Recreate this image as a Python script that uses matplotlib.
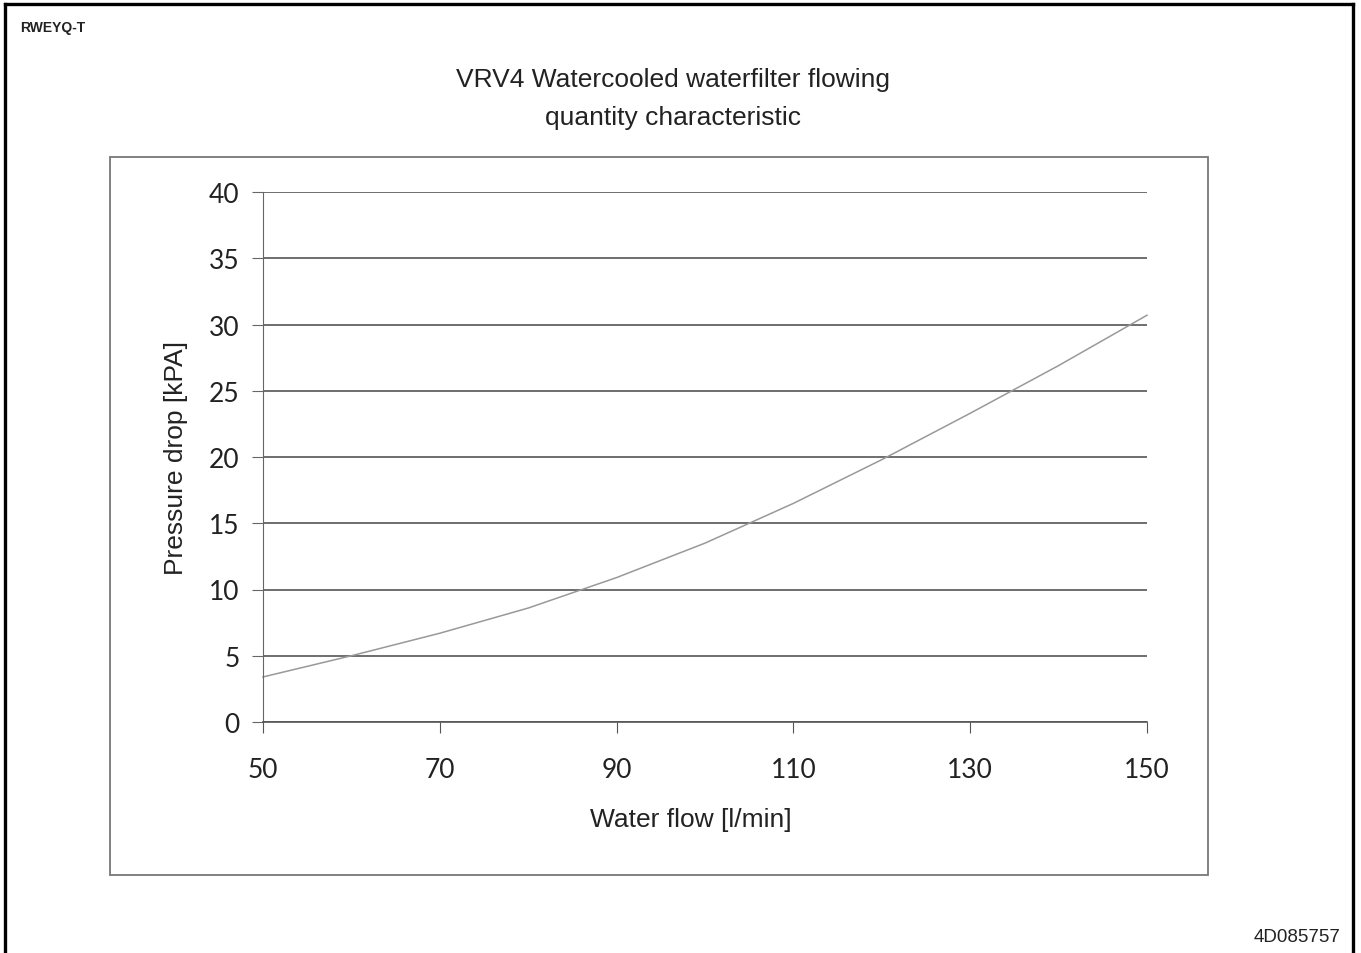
import matplotlib
matplotlib.use("Agg")
import matplotlib.pyplot as plt
from matplotlib.patches import Rectangle
from matplotlib.lines import Line2D

# water flow [l/min] vs pressure drop [kPa]
flow = [50, 60, 70, 80, 90, 100, 110, 120, 130, 140, 150]
pressure = [3.4, 5.0, 6.7, 8.6, 10.9, 13.5, 16.5, 19.8, 23.3, 26.9, 30.7]

x_ticks = [50, 70, 90, 110, 130, 150]
y_ticks = [0, 5, 10, 15, 20, 25, 30, 35, 40]

title_lines = ["VRV4 Watercooled waterfilter flowing", "quantity characteristic"]
narrow = ["Liberation Sans Narrow", "Liberation Sans", "DejaVu Sans"]
tickfont = ["Lato", "DejaVu Sans"]

W, H = 1361, 954
fig = plt.figure(figsize=(W / 100, H / 100), dpi=100)

# outer page frame (open at the bottom)
for xs, ys in [([5, 5], [0, 949]), ([5, 1353], [949, 949]), ([1353, 1353], [0, 949])]:
    fig.add_artist(Line2D([v / W for v in xs], [v / H for v in ys], color="black",
                          lw=2.4, transform=fig.transFigure))

fig.text(20 / W, 1 - 28 / H, "RWEYQ-T", fontsize=10, fontweight="bold",
         family="Liberation Sans", color="#222222", va="center")
fig.text(1340 / W, 1 - 938 / H, "4D085757", fontsize=13.5, family="Liberation Sans",
         color="#222222", ha="right", va="center")

# chart box
fig.add_artist(Rectangle((110 / W, 1 - 876 / H), 1098 / W, 718 / H,
                         fill=False, ec="#777777", lw=1.3, transform=fig.transFigure))

for i, line in enumerate(title_lines):
    fig.text(673 / W, 1 - (80 + 38 * i) / H, line, ha="center", va="center",
             fontsize=19, family=narrow, color="#222222")

ax = fig.add_axes([263 / W, 1 - 723 / H, 884 / W, 530 / H])
ax.set_xlim(50, 150)
ax.set_ylim(0, 40)
ax.set_yticks(y_ticks)
ax.set_xticks(x_ticks)
ax.grid(axis="y", color="#555555", lw=1.2)
ax.set_axisbelow(True)
for s in ["top", "right"]:
    ax.spines[s].set_visible(False)
ax.spines["left"].set_color("#666666")
ax.spines["bottom"].set_color("#555555")
ax.spines["bottom"].set_linewidth(1.2)
ax.tick_params(axis="y", length=8, color="#666666", pad=9)
ax.tick_params(axis="x", length=8, color="#555555", pad=17)
for lab in ax.get_xticklabels() + ax.get_yticklabels():
    lab.set_fontsize(19)
    lab.set_family(tickfont)
    lab.set_color("#222222")

ax.plot(flow, pressure, color="#999999", lw=1.1, clip_on=False)

ax.set_xlabel("Water flow [l/min]", fontsize=19, family=narrow, color="#222222")
ax.xaxis.set_label_coords((691 - 263) / 884, -0.16)
ax.set_ylabel("Pressure drop [kPA]", fontsize=19, family=narrow, color="#222222", labelpad=15)

fig.savefig("out.png", dpi=100)
